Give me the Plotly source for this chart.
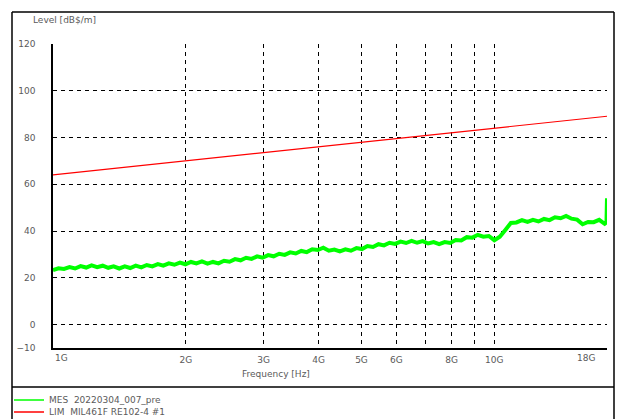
import math
import plotly.graph_objects as go

# ---------------- data ----------------
freq_ghz = [1.000, 1.029, 1.059, 1.090, 1.122, 1.155, 1.189, 1.223, 1.259, 1.296,
            1.334, 1.372, 1.413, 1.454, 1.496, 1.540, 1.585, 1.631, 1.679, 1.728,
            1.778, 1.830, 1.884, 1.939, 1.995, 2.054, 2.113, 2.175, 2.239, 2.304,
            2.371, 2.441, 2.512, 2.585, 2.661, 2.738, 2.818, 2.901, 2.985, 3.073,
            3.162, 3.255, 3.350, 3.447, 3.548, 3.652, 3.758, 3.868, 3.981, 4.097,
            4.217, 4.340, 4.467, 4.597, 4.732, 4.870, 5.012, 5.158, 5.309, 5.464,
            5.623, 5.788, 5.957, 6.131, 6.310, 6.494, 6.683, 6.879, 7.079, 7.286,
            7.499, 7.718, 7.943, 8.175, 8.414, 8.660, 8.913, 9.173, 9.441, 9.716,
            10.00, 10.29, 10.59, 10.90, 11.22, 11.55, 11.89, 12.23, 12.59, 12.96,
            13.34, 13.72, 14.13, 14.54, 14.96, 15.40, 15.85, 16.31, 16.79, 17.28,
            17.78, 17.95, 18.00]
mes_level = [23.3, 24.1, 23.8, 24.6, 24.0, 25.0, 24.4, 25.3, 24.6, 25.2,
             24.3, 24.9, 24.0, 24.9, 24.2, 25.2, 24.5, 25.5, 24.9, 25.9,
             25.2, 26.2, 25.6, 26.5, 25.8, 26.8, 26.2, 27.0, 26.1, 26.8,
             26.2, 27.3, 26.9, 28.0, 27.5, 28.6, 28.1, 29.2, 28.6, 29.7,
             29.2, 30.3, 29.8, 30.9, 30.4, 31.5, 31.0, 32.2, 31.9, 32.9,
             31.6, 32.1, 31.3, 32.2, 31.6, 32.7, 32.3, 33.6, 33.2, 34.4,
             33.9, 35.0, 34.5, 35.5, 34.9, 35.8, 35.0, 35.7, 34.7, 35.3,
             34.4, 35.3, 34.9, 36.2, 36.0, 37.4, 37.2, 38.4, 37.6, 37.9,
             36.1, 37.6, 40.5, 43.5, 43.7, 44.7, 43.9, 44.8, 44.1, 45.2,
             44.7, 45.9, 45.5, 46.5, 45.3, 44.9, 42.9, 43.9, 43.8, 44.8,
             43.1, 43.7, 54.0]

lim_freq_ghz = [1.0, 18.0]
lim_level = [64.0, 89.1]

x_tick_vals = [1, 2, 3, 4, 5, 6, 7, 8, 9, 10, 18]
x_tick_text = ["", "2G", "3G", "4G", "5G", "6G", "", "8G", "", "10G", ""]
y_tick_vals = [-10, 0, 20, 40, 60, 80, 100, 120]

mes_name = "MES  20220304_007_pre"
lim_name = "LIM  MIL461F RE102-4 #1"

# ---------------- layout helpers (pixel -> paper) ----------------
W, H = 618, 419
PL, PR, PT, PB = 53, 607, 44, 348


def px(x):
    return (x - PL) / (PR - PL)


def py(y):
    return (PB - y) / (PB - PT)


FONT = "DejaVu Sans, Verdana, sans-serif"
TXT = "#5a5a5a"
FS = 9

fig = go.Figure()
fig.add_trace(go.Scatter(x=freq_ghz, y=mes_level, mode="lines", name=mes_name,
                         line=dict(color="#00FF00", width=4), showlegend=False))
fig.add_trace(go.Scatter(x=lim_freq_ghz, y=lim_level, mode="lines", name=lim_name,
                         line=dict(color="#FF0000", width=1.2), showlegend=False))

fig.update_layout(
    width=W, height=H,
    margin=dict(l=PL, r=W - PR, t=PT, b=H - PB),
    paper_bgcolor="white", plot_bgcolor="white",
    font=dict(family=FONT, size=FS, color=TXT),
    xaxis=dict(type="log", range=[0, math.log10(18)], tickvals=x_tick_vals,
               ticktext=x_tick_text, showgrid=True, gridcolor="black",
               gridwidth=1.2, griddash="4px,4px", showline=True,
               linecolor="black", linewidth=1.5, ticks="outside", ticklen=2,
               tickcolor="rgba(0,0,0,0)", zeroline=False,
               tickfont=dict(size=FS, color=TXT)),
    yaxis=dict(range=[-10, 120], tickvals=y_tick_vals, showgrid=True,
               gridcolor="black", gridwidth=1.2, griddash="4px,4px",
               showline=True, linecolor="black", linewidth=1.5,
               ticks="outside", ticklen=14, tickcolor="rgba(0,0,0,0)",
               zeroline=False, tickfont=dict(size=FS, color=TXT)),
)

# x-axis edge labels (inset like the reference)
fig.add_annotation(x=0, y=-10, xref="x", yref="y", text="1G", showarrow=False,
                   xanchor="left", yanchor="top", yshift=-3,
                   font=dict(size=FS, color=TXT))
fig.add_annotation(x=math.log10(18), y=-10, xref="x", yref="y", text="18G",
                   showarrow=False, xanchor="right", yanchor="top", yshift=-3,
                   xshift=-10, font=dict(size=FS, color=TXT))

# axis titles
fig.add_annotation(x=px(276), y=py(374), xref="paper", yref="paper",
                   text="Frequency [Hz]", showarrow=False, xanchor="center",
                   yanchor="middle", font=dict(size=FS, color=TXT))
fig.add_annotation(x=px(31), y=py(20), xref="paper", yref="paper",
                   text="Level [dB$/m]", showarrow=False, xanchor="left",
                   yanchor="middle", font=dict(size=FS, color=TXT))

# outer frame and divider
frame = dict(color="black", width=1.5)
fig.add_shape(type="line", xref="paper", yref="paper", x0=px(12), x1=px(12),
              y0=py(12), y1=py(425), line=frame)
fig.add_shape(type="line", xref="paper", yref="paper", x0=px(12), x1=px(614),
              y0=py(12), y1=py(12), line=frame)
fig.add_shape(type="line", xref="paper", yref="paper", x0=px(614), x1=px(614),
              y0=py(12), y1=py(425), line=frame)
fig.add_shape(type="line", xref="paper", yref="paper", x0=px(12), x1=px(614),
              y0=py(387), y1=py(387), line=frame)

# legend drawn manually
for name, color, ypos in [(mes_name, "#00FF00", 400), (lim_name, "#FF0000", 412)]:
    fig.add_shape(type="line", xref="paper", yref="paper", x0=px(14), x1=px(44),
                  y0=py(ypos), y1=py(ypos), line=dict(color=color, width=1.5))
    fig.add_annotation(x=px(47), y=py(ypos), xref="paper", yref="paper",
                       text=name, showarrow=False, xanchor="left",
                       yanchor="middle", font=dict(size=FS, color=TXT))

fig.write_html("out.html",
               config={"displayModeBar": False},
               post_script="document.body.style.margin='0';"
                           "document.body.style.overflow='hidden';")
